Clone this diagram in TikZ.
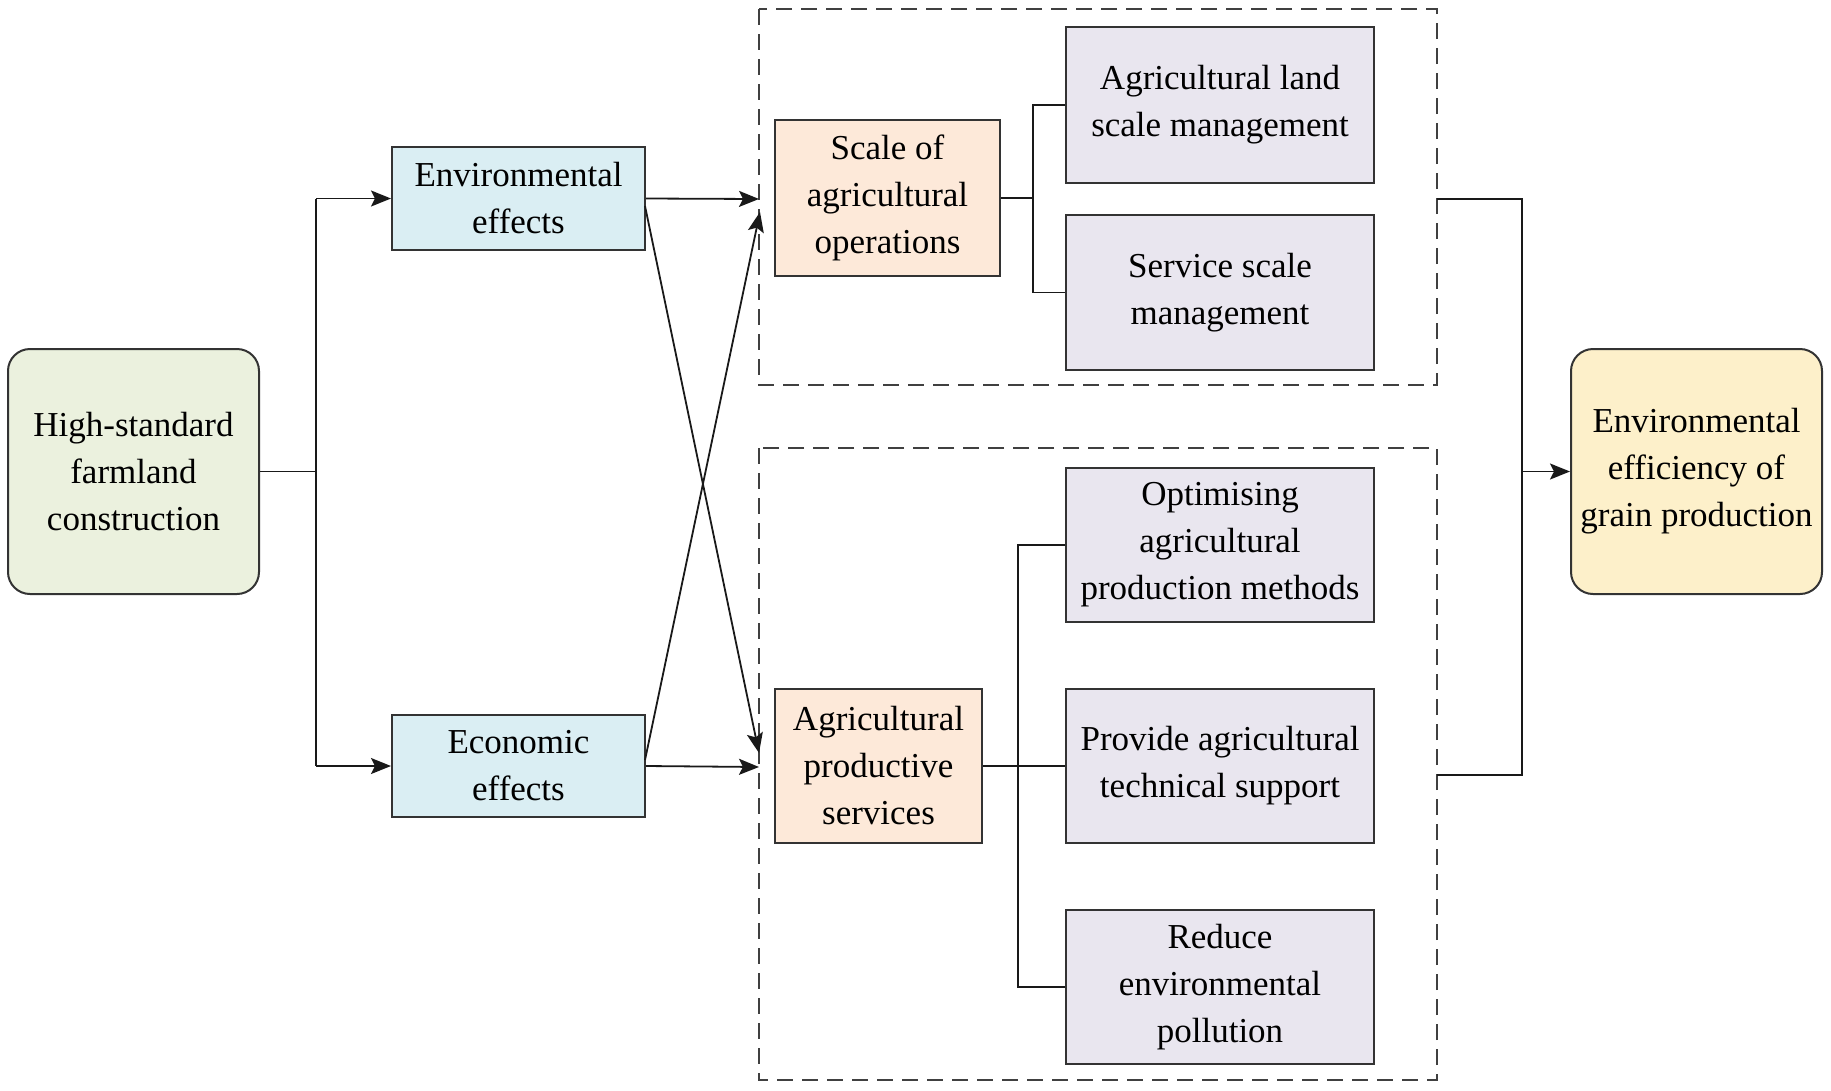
\documentclass[tikz,border=0pt]{standalone}
\usepackage{fontspec}
\setmainfont{Liberation Serif}
\usetikzlibrary{arrows.meta}
\definecolor{cgreen}{HTML}{EBF1DE}
\definecolor{cblue}{HTML}{DAEEF3}
\definecolor{corange}{HTML}{FDE9D9}
\definecolor{clav}{HTML}{E9E6EF}
\definecolor{cyellow}{HTML}{FDF0CA}
\definecolor{cborder}{HTML}{333333}
\begin{document}
\begin{tikzpicture}[x=1pt,y=-1pt,
  box/.style={draw=cborder, line width=2pt, align=center, inner sep=0pt,
    font=\fontsize{35}{47}\selectfont},
  roundbox/.style={box, rounded corners=22pt},
  conn/.style={line width=1.8pt, draw=black!90},
  arr/.style={conn, -{Stealth[length=20pt,width=16pt,inset=4pt]}},
  dashbox/.style={draw=black!75, line width=1.8pt, dash pattern=on 16pt off 9pt}
]
\useasboundingbox (0,0) rectangle (1831,1090);

% dashed groups
\draw[dashbox] (759,9) rectangle (1437,385);
\draw[dashbox] (759,448) rectangle (1437,1080);
\coordinate (gtop) at (1437,199);
\coordinate (gbot) at (1437,775);

% nodes
\node[roundbox, fill=cgreen, minimum width=251pt, minimum height=245pt] (hs) at (133.5,471.5) {High-standard\\farmland\\construction};
\node[box, fill=cblue, minimum width=253pt, minimum height=103pt] (env) at (518.5,198.5) {Environmental\\effects};
\node[box, fill=cblue, minimum width=253pt, minimum height=102pt] (econ) at (518.5,766) {Economic\\effects};
\node[box, fill=corange, minimum width=225pt, minimum height=156pt] (scale) at (887.5,198) {Scale of\\agricultural\\operations};
\node[box, fill=clav, minimum width=308pt, minimum height=156pt] (a1) at (1220,105) {Agricultural land\\scale management};
\node[box, fill=clav, minimum width=308pt, minimum height=155pt] (a2) at (1220,292.5) {Service scale\\management};
\node[box, fill=corange, minimum width=207pt, minimum height=154pt] (prod) at (878.5,766) {Agricultural\\productive\\services};
\node[box, fill=clav, minimum width=308pt, minimum height=154pt] (o1) at (1220,545) {Optimising\\agricultural\\production methods};
\node[box, fill=clav, minimum width=308pt, minimum height=154pt] (o2) at (1220,766) {Provide agricultural\\technical support};
\node[box, fill=clav, minimum width=308pt, minimum height=154pt] (o3) at (1220,987) {Reduce\\environmental\\pollution};
\node[roundbox, fill=cyellow, minimum width=251pt, minimum height=245pt] (res) at (1696.5,471.5) {Environmental\\efficiency of\\grain production};

% left fork
\coordinate (lx) at (316,0);
\draw[conn] (hs.east) -- (hs.east -| lx);
\draw[conn] (env.west -| lx) -- (econ.west -| lx);
\draw[arr] (env.west -| lx) -- (env.west);
\draw[arr] (econ.west -| lx) -- (econ.west);

% into groups
\coordinate (tin) at (759,199);
\coordinate (bin) at (759,767);
\coordinate (tdiag) at (760,212);
\coordinate (bdiag) at (759,753);
\coordinate (es) at (645,206);
\coordinate (ecs) at (645,760);
\draw[arr] (env.east) -- (tin);
\draw[arr] (econ.east) -- (bin);
\draw[arr] (es) -- (bdiag);
\draw[arr] (ecs) -- (tdiag);

% upper bracket
\coordinate (b1) at (1033,0);
\draw[conn] (scale.east) -- (scale.east -| b1);
\draw[conn] (a1.west) -- (a1.west -| b1) -- (a2.west -| b1) -- (a2.west);

% lower bracket
\coordinate (b2) at (1018,0);
\draw[conn] (prod.east) -- (o2.west);
\draw[conn] (o1.west) -- (o1.west -| b2) -- (o3.west -| b2) -- (o3.west);

% right fork
\coordinate (rx) at (1522,0);
\draw[conn] (gtop) -- (gtop -| rx) -- (gbot -| rx) -- (gbot);
\draw[arr] (res.west -| rx) -- (res.west);
\end{tikzpicture}
\end{document}
